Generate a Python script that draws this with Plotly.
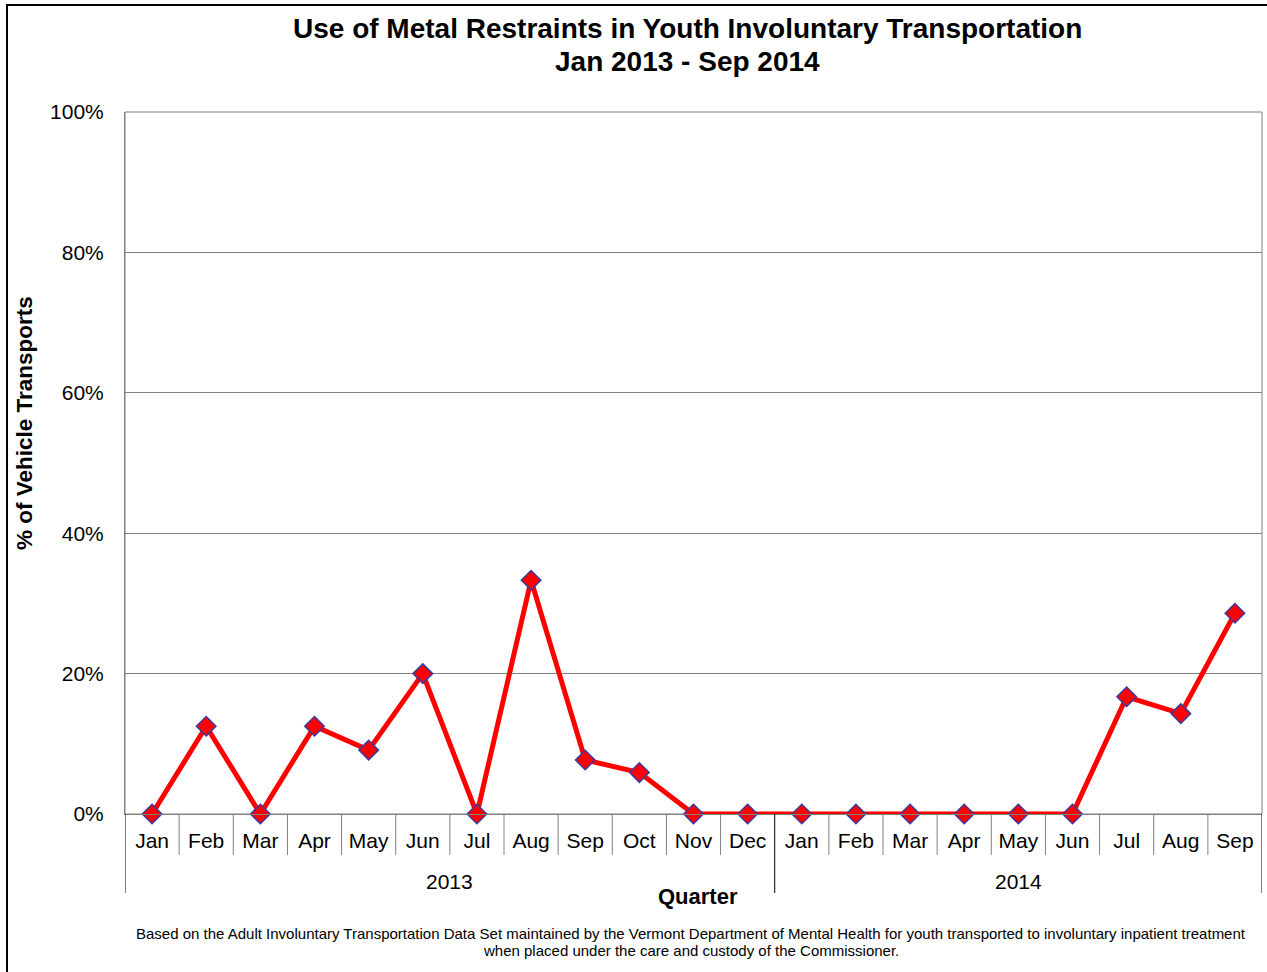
import plotly.graph_objects as go

months = ["Jan", "Feb", "Mar", "Apr", "May", "Jun", "Jul", "Aug", "Sep", "Oct", "Nov", "Dec",
          "Jan", "Feb", "Mar", "Apr", "May", "Jun", "Jul", "Aug", "Sep"]
years = ["2013"] * 12 + ["2014"] * 9
pct = [0.0, 12.5, 0.0, 12.5, 9.1, 20.0, 0.0, 33.3, 7.7, 5.9, 0.0, 0.0,
       0.0, 0.0, 0.0, 0.0, 0.0, 0.0, 16.7, 14.3, 28.6]
y_ticks = [0, 20, 40, 60, 80, 100]
y_ticklabels = ["0%", "20%", "40%", "60%", "80%", "100%"]
title_lines = ["Use of Metal Restraints in Youth Involuntary Transportation", "Jan 2013 - Sep 2014"]
note_lines = ["Based on the Adult Involuntary Transportation Data Set maintained by the Vermont Department of Mental Health for youth transported to involuntary inpatient treatment",
              "when placed under the care and custody of the Commissioner."]

W, H = 1267, 972
L, R, T, B = 125, 5, 112, 158
pw, ph = W - L - R, H - T - B

def px_x(x):
    return (x - L) / pw

def px_y(y):
    return (H - B - y) / ph

FONT = "Liberation Sans, Arial, sans-serif"
idx = list(range(len(months)))

fig = go.Figure()
fig.add_trace(go.Scatter(
    x=idx, y=pct, mode="lines+markers",
    line=dict(color="#ff0000", width=5),
    marker=dict(symbol="diamond", size=15, color="#ff0000",
                line=dict(color="#3a3aa0", width=1.5)),
    hoverinfo="y", showlegend=False, cliponaxis=False,
))

shapes = []
for i in range(len(months) - 1):
    long = years[i] != years[i + 1]
    shapes.append(dict(type="line", xref="x", yref="paper", x0=i + 0.5, x1=i + 0.5,
                       y0=0, y1=px_y(893 if long else 855),
                       line=dict(color="#000000" if long else "#808080", width=1)))
for xe in (-0.5, len(months) - 0.5):
    shapes.append(dict(type="line", xref="x", yref="paper", x0=xe, x1=xe,
                       y0=0, y1=px_y(893), line=dict(color="#000000", width=1)))
shapes.append(dict(type="rect", xref="paper", yref="paper",
                   x0=px_x(7), x1=px_x(1290), y0=px_y(1000), y1=px_y(5),
                   line=dict(color="#000000", width=2), fillcolor="rgba(0,0,0,0)", layer="above"))
shapes.append(dict(type="rect", xref="paper", yref="paper", x0=0, x1=1, y0=0, y1=1,
                   line=dict(color="#808080", width=1), fillcolor="rgba(0,0,0,0)", layer="below"))

annotations = []
for yr in sorted(set(years)):
    members = [i for i, y in enumerate(years) if y == yr]
    annotations.append(dict(x=(members[0] + members[-1]) / 2, xref="x", y=px_y(881), yref="paper",
                            text=yr, showarrow=False, font=dict(family=FONT, size=21, color="#000"),
                            xanchor="center", yanchor="middle"))
annotations.append(dict(x=px_x(698), xref="paper", y=px_y(896), yref="paper",
                        text="<b>Quarter</b>", showarrow=False,
                        font=dict(family=FONT, size=22, color="#000"),
                        xanchor="center", yanchor="middle"))
for line, yy in zip(title_lines, (29, 61)):
    annotations.append(dict(x=px_x(687), xref="paper", y=px_y(yy), yref="paper",
                            text="<b>" + line + "</b>", showarrow=False,
                            font=dict(family=FONT, size=28, color="#000"),
                            xanchor="center", yanchor="middle"))
for line, yy in zip(note_lines, (933.5, 950.5)):
    annotations.append(dict(x=px_x(691), xref="paper", y=px_y(yy), yref="paper",
                            text=line, showarrow=False,
                            font=dict(family=FONT, size=15, color="#000"),
                            xanchor="center", yanchor="middle"))
annotations.append(dict(x=px_x(24), xref="paper", y=px_y(423), yref="paper",
                        text="<b>% of Vehicle Transports</b>", textangle=-90, showarrow=False,
                        font=dict(family=FONT, size=22.5, color="#000"),
                        xanchor="center", yanchor="middle"))

fig.update_layout(
    width=W, height=H,
    margin=dict(l=L, r=R, t=T, b=B),
    paper_bgcolor="white", plot_bgcolor="white",
    font=dict(family=FONT, size=21, color="#000"),
    shapes=shapes, annotations=annotations,
    xaxis=dict(range=[-0.5, len(months) - 0.5], tickvals=idx, ticktext=months,
               showgrid=False, zeroline=False, showline=True, linecolor="#808080",
               ticks="", ticklabelstandoff=8, tickfont=dict(family=FONT, size=21, color="#000"),
               fixedrange=True),
    yaxis=dict(range=[0, 100], tickvals=y_ticks, ticktext=y_ticklabels,
               showgrid=True, gridcolor="#808080", gridwidth=1, zeroline=False,
               showline=True, linecolor="#808080", ticks="", ticklabelstandoff=16,
               tickfont=dict(family=FONT, size=21, color="#000"), fixedrange=True),
)

fig.write_html("out.html", config={"displayModeBar": False},
               post_script="document.body.style.margin='0';document.body.style.padding='0';")
